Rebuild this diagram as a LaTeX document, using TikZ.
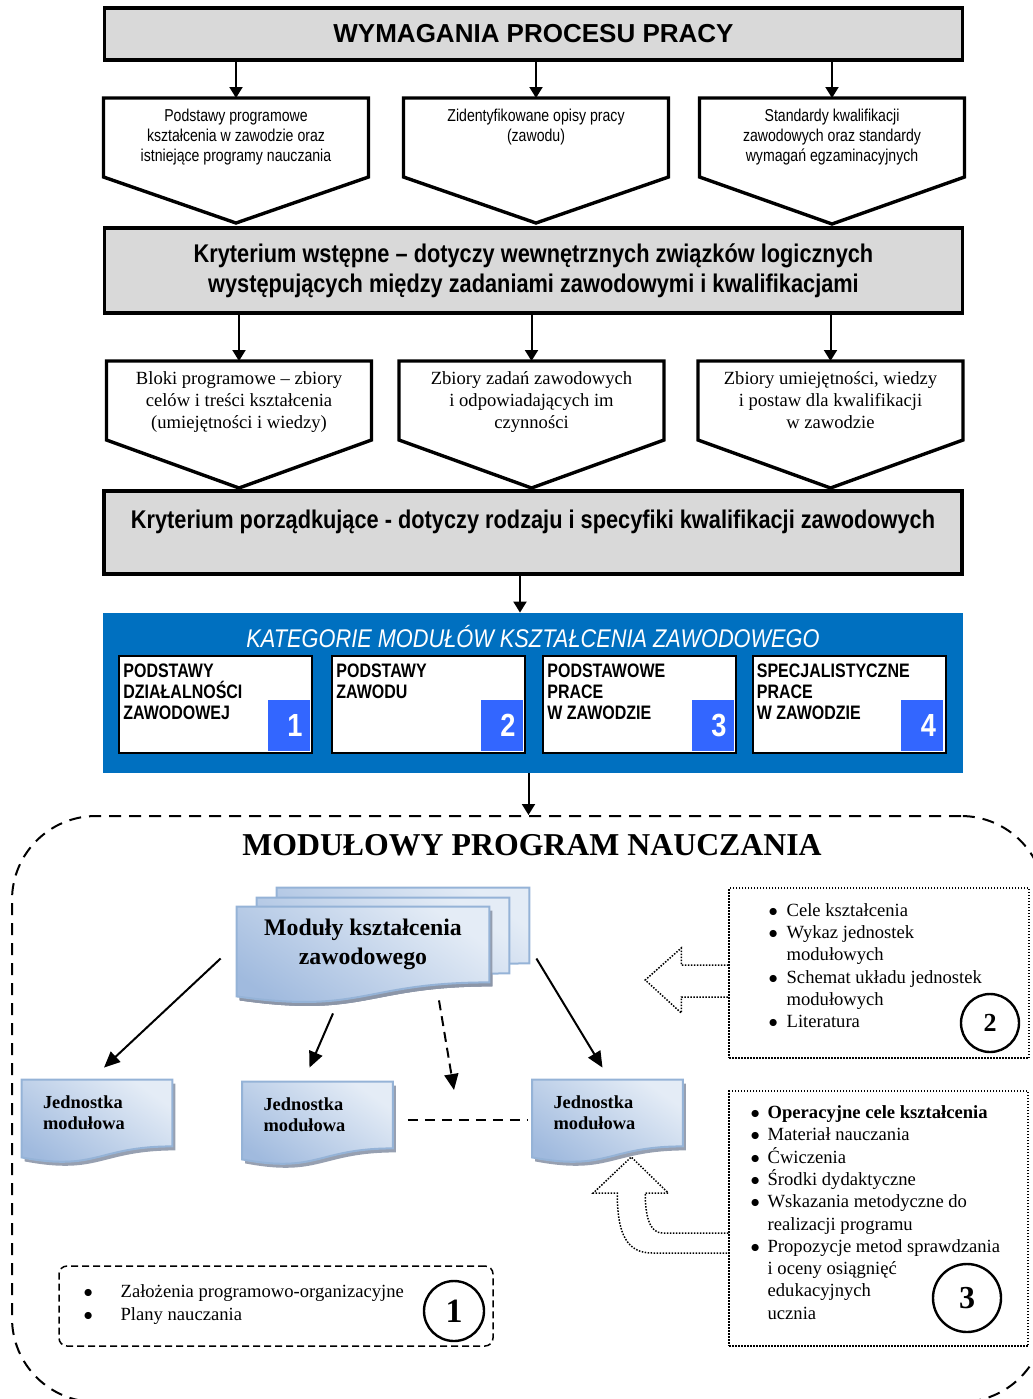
\documentclass[tikz,border=0pt]{standalone}
\usepackage{fontspec}
\setmainfont{Liberation Serif}
\setsansfont{Liberation Sans}
\newfontfamily\narrowsf[FakeStretch=0.82]{Liberation Sans}
\newfontfamily\condsf[FakeStretch=0.85]{Liberation Sans}
\usepackage{tikz}
\usetikzlibrary{positioning,arrows.meta,calc,backgrounds,shadows}
\definecolor{boxgray}{RGB}{217,217,217}
\definecolor{katblue}{RGB}{0,112,192}
\definecolor{numblue}{RGB}{51,102,255}
\definecolor{doctop}{RGB}{228,236,246}
\definecolor{docbot}{RGB}{160,186,222}
\definecolor{docedge}{RGB}{149,179,215}
\definecolor{docshade}{RGB}{140,150,168}
\tikzset{
  graybox/.style  = {rectangle, fill=boxgray, draw=black, line width=1.7pt,
                     minimum width=429pt, align=center, inner sep=0pt,
                     font=\condsf\bfseries\fontsize{12.8}{15}\selectfont},
  pentsf/.style   = {anchor=north, align=center, inner xsep=0pt, inner ysep=5.2pt,
                     font=\narrowsf\fontsize{8.6}{10}\selectfont},
  pentrm/.style   = {anchor=north, align=center, inner xsep=0pt, inner ysep=5.2pt,
                     font=\rmfamily\fontsize{9.3}{11}\selectfont},
  pentline/.style = {draw=black, line width=1.7pt, fill=white},
  arr/.style      = {-{Triangle[width=6.5pt,length=5.5pt]}, line width=1pt},
  bluebox/.style  = {rectangle, fill=katblue, minimum width=430pt, minimum height=80pt},
  kattitle/.style = {text=white, inner sep=0pt,
                     font=\condsf\itshape\fontsize{12.8}{14}\selectfont},
  catbox/.style   = {rectangle, fill=white, draw=black, line width=1pt,
                     minimum width=96.5pt, minimum height=48.5pt},
  cattxt/.style   = {anchor=north west, align=left, inner sep=0pt,
                     font=\narrowsf\bfseries\fontsize{9.75}{10.5}\selectfont},
  catnum/.style   = {anchor=south east, fill=numblue, text=white, inner sep=0pt,
                     minimum width=21pt, minimum height=25.5pt, text width=14pt,
                     align=right, font=\condsf\bfseries\fontsize{16}{16}\selectfont},
  mpnbox/.style   = {rectangle, draw=black, line width=1pt, dash pattern=on 6pt off 4pt,
                     rounded corners=42pt, minimum width=516.5pt, minimum height=293pt},
  mpntitle/.style = {inner sep=0pt, font=\rmfamily\bfseries\fontsize{15.9}{18}\selectfont},
  modtxt/.style   = {align=center, inner sep=0pt, minimum width=126pt, minimum height=37.5pt,
                     font=\rmfamily\bfseries\fontsize{11.9}{14.5}\selectfont},
  unittxt/.style  = {align=left, text width=54pt, inner sep=0pt, minimum width=75pt,
                     minimum height=33pt, font=\rmfamily\bfseries\fontsize{9.2}{10.6}\selectfont},
  docfill/.style  = {draw=docedge, line width=1pt, top color=doctop, bottom color=docbot,
                     shading angle=-35,
                     drop shadow={shadow xshift=1.5pt, shadow yshift=-2pt,
                                  fill=docshade, opacity=0.9}},
  modarr/.style   = {-{Triangle[width=7pt,length=8pt]}, line width=1pt},
  dashline/.style = {line width=0.8pt, dash pattern=on 5pt off 3.5pt},
  dotbox/.style   = {rectangle, draw=black, line width=0.75pt,
                     dash pattern=on 0.75pt off 0.75pt},
  dashbox/.style  = {rectangle, draw=black, line width=0.75pt,
                     dash pattern=on 3.5pt off 2pt, rounded corners=4pt},
  listtxt/.style  = {anchor=north west, align=left, inner sep=0pt,
                     font=\rmfamily\fontsize{9.3}{11.1}\selectfont},
  numcirc/.style  = {circle, draw=black, line width=1.2pt, inner sep=0pt},
  hollowarr/.style= {draw=black, line width=0.75pt, dash pattern=on 0.75pt off 0.75pt}
}
\newcommand{\pentpath}[3]{($(#1.north)+(-132.5,0)$) -- ($(#1.north)+(132.5,0)$)
  -- ($(#1.north)+(132.5,#2)$) -- ($(#1.north)+(0,#3)$) -- ($(#1.north)+(-132.5,#2)$) -- cycle}
\newcommand{\docpath}[2]{(#1.north west) -- (#1.north east) -- (#1.south east)
  .. controls (#1.south) and ($(#1.south)+(0,2.3*#2)$) .. ($(#1.south west)+(0,#2)$) -- cycle}
\newcommand{\itembul}[1][9pt]{\makebox[#1][l]{$\bullet$}}
\newcommand{\itemind}[1][9pt]{\hspace*{#1}}

\begin{document}
\begin{tikzpicture}[x=0.5pt, y=-0.5pt]
  \useasboundingbox (0,0) rectangle (1033,1399);
  % Requirements
  \node[graybox, minimum height=26pt, font=\sffamily\bfseries\fontsize{13}{15}\selectfont]
    (req) at (533.5,34) {WYMAGANIA PROCESU PRACY};
  \node[pentsf] (src1) at (236,98) {Podstawy programowe\\kształcenia w zawodzie oraz\\istniejące programy nauczania};
  \node[pentsf] (src2) at (536,98) {Zidentyfikowane opisy pracy\\(zawodu)};
  \node[pentsf] (src3) at (832,98) {Standardy kwalifikacji\\zawodowych oraz standardy\\wymagań egzaminacyjnych};
  % First criterion
  \node[graybox, minimum height=42.5pt] (crit1) at (533.5,270.5)
    {Kryterium wstępne – dotyczy wewnętrznych związków logicznych\\występujących między zadaniami zawodowymi i kwalifikacjami};
  \node[pentrm] (set1) at (239,361) {Bloki programowe – zbiory\\celów i treści kształcenia\\(umiejętności i wiedzy)};
  \node[pentrm] (set2) at (531.5,361) {Zbiory zadań zawodowych\\i odpowiadających im\\czynności};
  \node[pentrm] (set3) at (830.5,361) {Zbiory umiejętności, wiedzy\\i postaw dla kwalifikacji\\w zawodzie};
  % Ordering criterion
  \node[graybox, minimum height=41.5pt, text height=9.3pt, text depth=13.8pt] (crit2) at (533,532.5)
    {Kryterium porządkujące - dotyczy rodzaju i specyfiki kwalifikacji zawodowych};
  \begin{scope}[on background layer]
    \draw[pentline] \pentpath{src1}{79}{125};
    \draw[pentline] \pentpath{src2}{79}{125};
    \draw[pentline] \pentpath{src3}{79}{126};
    \draw[pentline] \pentpath{set1}{79}{127};
    \draw[pentline] \pentpath{set2}{79}{127};
    \draw[pentline] \pentpath{set3}{79}{127};
  \end{scope}
  \draw[arr] (req.south -| src1.north) -- (src1.north);
  \draw[arr] (req.south -| src2.north) -- (src2.north);
  \draw[arr] (req.south -| src3.north) -- (src3.north);
  \draw[arr] (crit1.south -| set1.north) -- (set1.north);
  \draw[arr] (crit1.south -| set2.north) -- (set2.north);
  \draw[arr] (crit1.south -| set3.north) -- (set3.north);
  % Module categories
  \node[bluebox] (kat) at (533,693) {};
  \node[kattitle] (katt) at (533,637) {KATEGORIE MODUŁÓW KSZTAŁCENIA ZAWODOWEGO};
  \node[catbox] (cat1) at (215.5,704.5) {};
  \node[catbox] (cat2) at (428.5,704.5) {};
  \node[catbox] (cat3) at (639.5,704.5) {};
  \node[catbox] (cat4) at (849,704.5) {};
  \node[cattxt] (cat1t) at ($(cat1.north west)+(5,8)$) {PODSTAWY\\DZIAŁALNOŚCI\\ZAWODOWEJ};
  \node[cattxt] (cat2t) at ($(cat2.north west)+(5,8)$) {PODSTAWY\\ZAWODU};
  \node[cattxt] (cat3t) at ($(cat3.north west)+(5,8)$) {PODSTAWOWE\\PRACE\\W ZAWODZIE};
  \node[cattxt] (cat4t) at ($(cat4.north west)+(5,8)$) {SPECJALISTYCZNE\\PRACE\\W ZAWODZIE};
  \node[catnum] (cat1n) at ($(cat1.south east)+(-3,-3)$) {1};
  \node[catnum] (cat2n) at ($(cat2.south east)+(-3,-3)$) {2};
  \node[catnum] (cat3n) at ($(cat3.south east)+(-3,-3)$) {3};
  \node[catnum] (cat4n) at ($(cat4.south east)+(-3,-3)$) {4};
  \draw[arr] ($(crit2.south)+(-13,0)$) -- ($(kat.north)+(-13,0)$);
  % Modular programme
  \node[mpnbox] (mpn) at (528.5,1109) {};
  \node[mpntitle] (mpnt) at (532,845) {MODUŁOWY PROGRAM NAUCZANIA};
  \draw[arr] (kat.south -| mpn.north) -- (mpn.north);
  \node[modtxt] (mod) at (363,944.5) {Moduły kształcenia\\zawodowego};
  \node[unittxt] (u1) at (97,1113) {Jednostka\\modułowa};
  \node[unittxt] (u2) at (317.5,1115) {Jednostka\\modułowa};
  \node[unittxt] (u3) at (607.5,1113) {Jednostka\\modułowa};
  \begin{scope}[on background layer]
    \draw[docfill, transform canvas={shift={(40,-19)}}] \docpath{mod}{14};
    \draw[docfill, transform canvas={shift={(20,-9)}}] \docpath{mod}{14};
    \draw[docfill] \docpath{mod}{14};
    \draw[docfill] \docpath{u1}{11};
    \draw[docfill] \docpath{u2}{11};
    \draw[docfill] \docpath{u3}{11};
  \end{scope}
  \coordinate (gap) at (454,1090);
  \draw[modarr] ($(mod.west)+(-16,14)$) -- ($(u1.north)+(7,-12)$);
  \draw[modarr] ($(mod.south)+(-30,31)$) -- ($(u2.north)+(-8,-14)$);
  \draw[modarr, dash pattern=on 5pt off 3pt] ($(mod.south)+(76,18)$) -- (gap);
  \draw[modarr] ($(mod.east)+(47,14)$) -- ($(u3.north)+(-5,-12)$);
  \draw[dashline] ($(u2.east)+(15,5)$) -- ($(u3.west)+(-5,7)$);
  % Programme contents
  \node[dotbox, minimum width=150pt, minimum height=85pt] (ex2) at (879,973) {};
  \node[listtxt] (ex2l) at ($(ex2.north west)+(40,16)$)
    {\itembul Cele kształcenia\\ \itembul Wykaz jednostek\\ \itemind modułowych\\
     \itembul Schemat układu jednostek\\ \itemind modułowych\\ \itembul Literatura};
  \node[numcirc, minimum size=29pt, font=\rmfamily\bfseries\fontsize{13}{13}\selectfont] (c2) at (990,1023) {2};
  \begin{scope}[shift={(ex2.west)}]
    \draw[hollowarr] (0,-8) -- (-47,-8) -- (-47,-25) -- (-83,7) -- (-47,40) -- (-47,24) -- (0,24);
  \end{scope}
  \node[dotbox, minimum width=149.5pt, minimum height=127.5pt] (ex3) at (878.5,1218.5) {};
  \node[listtxt, font=\rmfamily\fontsize{9.3}{11.15}\selectfont] (ex3l) at ($(ex3.north west)+(22,15)$)
    {\itembul[8.5pt]{\bfseries Operacyjne cele kształcenia}\\ \itembul[8.5pt]Materiał nauczania\\
     \itembul[8.5pt]Ćwiczenia\\ \itembul[8.5pt]Środki dydaktyczne\\
     \itembul[8.5pt]Wskazania metodyczne do\\ \itemind[8.5pt]realizacji programu\\
     \itembul[8.5pt]Propozycje metod sprawdzania\\ \itemind[8.5pt]i oceny osiągnięć\\
     \itemind[8.5pt]edukacyjnych\\ \itemind[8.5pt]ucznia};
  \node[numcirc, minimum size=34pt, font=\rmfamily\bfseries\fontsize{16}{16}\selectfont] (c3) at (967,1298) {3};
  \begin{scope}[shift={(ex3.west)}]
    \draw[hollowarr] (0,14.5) -- (-66,14.5) .. controls (-79,14.5) and (-83,-3.5) .. (-83,-25.5)
      -- (-60,-25.5) -- (-97,-61.5) -- (-135,-25.5) -- (-111,-25.5)
      .. controls (-111,16.5) and (-101,34.5) .. (-76,34.5) -- (0,34.5);
  \end{scope}
  \node[dashbox, minimum width=217pt, minimum height=40pt] (ex1) at (276,1306) {};
  \node[listtxt, font=\rmfamily\fontsize{9.3}{11.5}\selectfont] (ex1l) at ($(ex1.north west)+(25,19)$)
    {\itembul[18.5pt]Założenia programowo-organizacyjne\\ \itembul[18.5pt]Plany nauczania};
  \node[numcirc, minimum size=30pt, font=\rmfamily\bfseries\fontsize{17}{17}\selectfont] (c1) at (454,1311) {1};
\end{tikzpicture}
\end{document}
